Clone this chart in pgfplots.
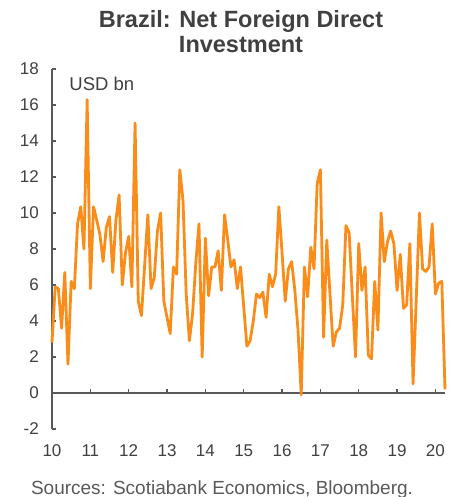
\documentclass[border=0pt]{standalone}
\usepackage{pgfplots}
\pgfplotsset{compat=1.18}
\usepackage{pgfplotstable}
\usepackage{fontspec}
\setmainfont{Liberation Sans}
\definecolor{lineorange}{RGB}{250,140,25}
\definecolor{axisgray}{RGB}{89,89,89}
\definecolor{textgray}{RGB}{64,64,64}

\pgfplotstableread{
v
2.8
5.9
5.8
3.6
6.7
1.6
6.2
5.8
9.4
10.35
8.0
16.3
5.8
10.35
9.6
8.8
7.3
9.2
9.8
6.7
9.6
11.0
6.0
7.8
8.7
5.9
15.0
5.1
4.3
7.1
9.9
5.8
6.4
9.0
10.0
5.1
4.2
3.3
7.0
6.6
12.4
10.7
5.5
2.9
4.4
7.2
9.4
2.0
8.6
5.4
7.0
7.0
7.9
5.7
9.9
8.5
7.0
7.4
5.8
7.0
4.8
2.6
2.9
4.0
5.5
5.3
5.6
4.2
6.6
5.9
6.6
10.35
7.8
5.1
6.9
7.3
5.7
3.5
-0.1
7.0
5.35
8.1
6.9
11.65
12.4
3.1
8.5
5.5
2.6
3.4
3.6
4.9
9.3
8.9
5.4
2.0
8.3
5.7
7.0
2.1
1.9
6.2
3.5
10.0
7.3
8.4
9.0
8.3
5.7
7.7
4.7
4.9
8.3
0.5
5.2
10.0
6.9
6.75
7.0
9.4
5.5
6.1
6.2
0.2
}\fdi

\begin{document}
\begin{tikzpicture}
\begin{axis}[
  scale only axis, width=393bp, height=360bp,
  xmin=10, xmax=20.25, ymin=-2, ymax=18,
  axis y line*=left, axis x line*=bottom,
  x axis line style={draw=none},
  y axis line style={axisgray, line width=1.2bp},
  ytick={-2,0,...,18},
  xtick={10,...,20},
  major x tick style={draw=none},
  major y tick style={axisgray, line width=1.2bp},
  tick align=inside, major tick length=4bp,
  tick label style={font=\fontsize{17bp}{20bp}\selectfont, text=textgray},
  /pgf/number format/assume math mode=true,
  yticklabel style={anchor=east, inner sep=0pt, xshift=-13bp},
  xticklabel style={anchor=base, inner sep=0pt, yshift=-27bp},
  clip=false,
]
\draw[axisgray, line width=1.2bp] (axis cs:10,0) -- (axis cs:20.25,0);
\draw[axisgray, line width=1.2bp]
  (axis cs:11,0) -- (axis cs:11,0.22)
  (axis cs:12,0) -- (axis cs:12,0.22)
  (axis cs:13,0) -- (axis cs:13,0.22)
  (axis cs:14,0) -- (axis cs:14,0.22)
  (axis cs:15,0) -- (axis cs:15,0.22)
  (axis cs:16,0) -- (axis cs:16,0.22)
  (axis cs:17,0) -- (axis cs:17,0.22)
  (axis cs:18,0) -- (axis cs:18,0.22)
  (axis cs:19,0) -- (axis cs:19,0.22)
  (axis cs:20,0) -- (axis cs:20,0.22);
\addplot[lineorange, line width=2.8bp, line join=round, mark=none] table[x expr=10+\coordindex/12, y=v]{\fdi};
\node[anchor=west, inner sep=0pt, font=\fontsize{18.5bp}{22bp}\selectfont, text=textgray] at (axis cs:10.45,17.2) {USD bn};
\end{axis}
\node[anchor=base, font=\bfseries\fontsize{23.5bp}{26bp}\selectfont, text=textgray] at (189bp,401bp) {Brazil: Net Foreign Direct};
\node[anchor=base, font=\bfseries\fontsize{23.5bp}{26bp}\selectfont, text=textgray] at (189bp,376bp) {Investment};
\node[anchor=base, font=\fontsize{19bp}{22bp}\selectfont, text=axisgray] at (170bp,-65bp) {Sources: Scotiabank Economics, Bloomberg.};
\pgfresetboundingbox
\path (-52bp,-68bp) rectangle (405bp,429bp);
\end{tikzpicture}
\end{document}
